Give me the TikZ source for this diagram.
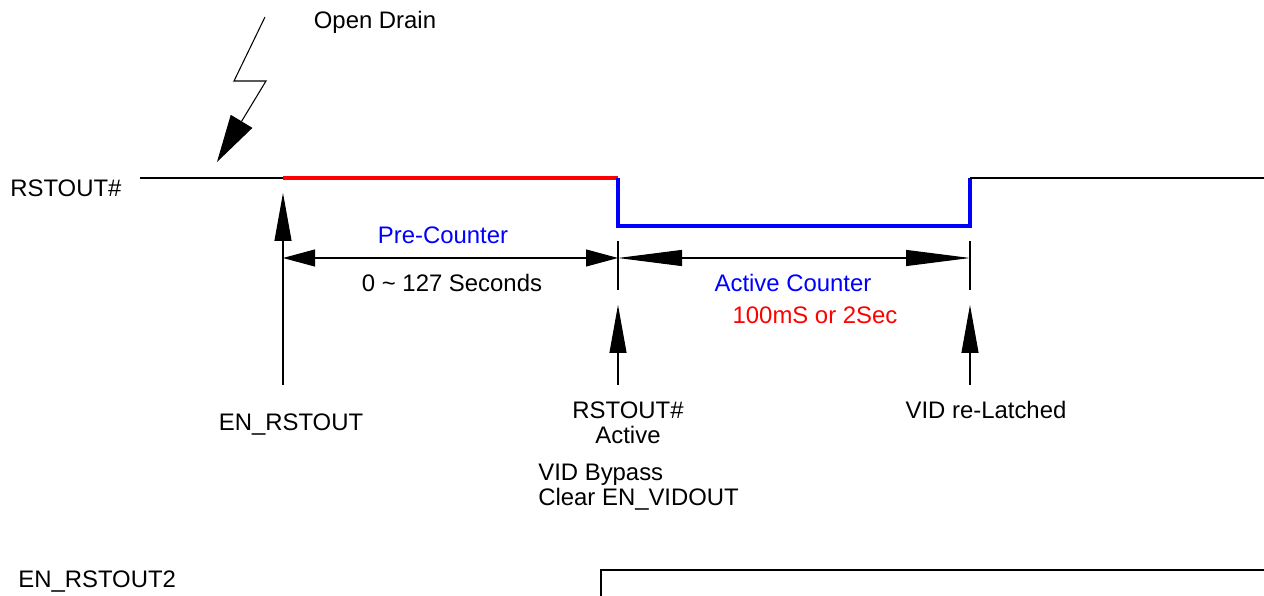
\documentclass[tikz,border=0pt]{standalone}
\usepackage{fontspec}
\setmainfont{Liberation Sans}
\usetikzlibrary{arrows.meta,calc,positioning}

\begin{document}
\begin{tikzpicture}[
  every node/.style={font=\fontsize{13.6}{14.2}\selectfont, inner sep=0pt},
  thinline/.style={line width=0.6pt},
  sigline/.style={line width=1.8pt},
  uptip/.style={thinline, -{Triangle[length=0.96cm,width=0.34cm]}},
  pcdim/.style={thinline, {Triangle[length=0.64cm,width=0.34cm]}-{Triangle[length=0.64cm,width=0.34cm]}},
  acdim/.style={thinline, {Triangle[length=1.28cm,width=0.32cm]}-{Triangle[length=1.28cm,width=0.32cm]}},
  bolttip/.style={thinline, -{Triangle[length=0.95cm,width=0.5cm]}}
]
\useasboundingbox (0,0) rectangle (25.28,11.92);

% --- RSTOUT# waveform ---
\node[anchor=west] (rstname) at (0.2,8.16) {RSTOUT\#};
\coordinate (s0) at (2.8,8.36);
\coordinate (en) at (5.66,8.36);
\coordinate (act) at (12.36,8.36);
\coordinate (lat) at (19.4,8.36);
\coordinate (s9) at (25.28,8.36);
\draw[thinline] (s0) -- (en);
\draw[sigline, red] (en) -- (act);
\draw[sigline, blue] (act) -- ($(act)+(0,-0.96)$) -- ($(lat)+(0,-0.96)$) -- (lat);
\draw[thinline] (lat) -- (s9);

% --- open drain bolt ---
\coordinate (b0) at (5.30,11.58);
\coordinate (b1) at (4.68,10.30);
\coordinate (b2) at (5.32,10.30);
\coordinate (b3) at (4.34,8.68);
\draw[bolttip] (b0) -- (b1) -- (b2) -- (b3);
\node (od) at (7.5,11.48) {Open Drain};

% --- counters ---
\coordinate (pc1) at (5.66,6.76);
\coordinate (pc2) at (12.36,6.76);
\coordinate (ac2) at (19.4,6.76);
\draw[thinline] (12.36,7.10) -- (12.36,6.12);
\draw[thinline] (19.4,7.10) -- (19.4,6.12);
\draw[pcdim] (pc1) -- (pc2);
\draw[acdim] (pc2) -- (ac2);
\node[blue] (pre) at (8.86,7.22) {Pre-Counter};
\node (prt) at (9.04,6.26) {0 \char`\~{} 127 Seconds};
\node[blue] (acn) at (15.86,6.26) {Active Counter};
\node[red] (cnt) at (16.3,5.62) {100mS or 2Sec};

% --- events ---
\coordinate (e0) at (5.66,4.22);
\coordinate (e1) at (5.66,8.06);
\coordinate (a0) at (12.36,4.22);
\coordinate (a1) at (12.36,5.82);
\coordinate (v0) at (19.4,4.22);
\coordinate (v1) at (19.4,5.82);
\draw[uptip] (e0) -- (e1);
\draw[uptip] (a0) -- (a1);
\draw[uptip] (v0) -- (v1);
\node (enl) at (5.82,3.42) {EN\_RSTOUT};
\node[align=center] (actl) at (12.56,3.46) {RSTOUT\#\\Active};
\node (vidl) at (19.72,3.72) {VID re-Latched};
\node[anchor=west, align=left] (byp) at (10.76,2.18) {VID Bypass\\Clear EN\_VIDOUT};

% --- EN_RSTOUT2 ---
\node[anchor=west] (en2) at (0.36,0.28) {EN\_RSTOUT2};
\coordinate (r0) at (12.02,0);
\coordinate (r1) at (12.02,0.52);
\coordinate (r2) at (25.28,0.52);
\draw[thinline] (r0) -- (r1) -- (r2);
\end{tikzpicture}
\end{document}
